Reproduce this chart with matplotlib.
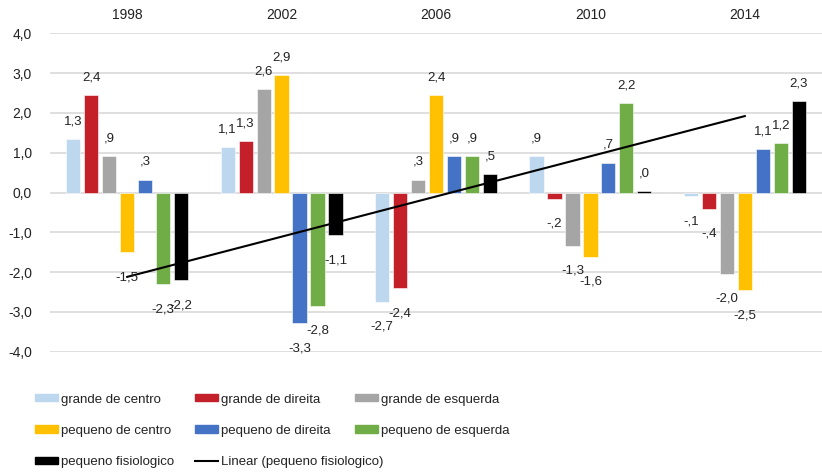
import matplotlib.pyplot as plt
import matplotlib.patches as mpatches
import matplotlib.lines as mlines
import numpy as np


###Data
years = ['1998', '2002', '2006', '2010', '2014']
series_names = ['grande de centro', 'grande de direita', 'grande de esquerda',
                'pequeno de centro', 'pequeno de direita', 'pequeno de esquerda',
                'pequeno fisiologico']
grande_centro = [1.34, 1.14, -2.74, 0.91, -0.10]
grande_direita = [2.44, 1.29, -2.41, -0.16, -0.41]
grande_esquerda = [0.91, 2.59, 0.32, -1.34, -2.04]
pequeno_centro = [-1.50, 2.94, 2.44, -1.61, -2.46]
pequeno_direita = [0.32, -3.28, 0.91, 0.74, 1.09]
pequeno_esquerda = [-2.31, -2.84, 0.91, 2.24, 1.24]
pequeno_fisiologico = [-2.21, -1.07, 0.46, 0.03, 2.29]
###Data end

###Adjustments
colors = ['#BDD7EE', '#C3202A', '#A5A5A5', '#FFC000', '#4472C4', '#70AD47', '#000000']
bar_pitch = 0.1165
bar_width = 0.092
font = 'Liberation Sans'
text_color = '#222222'
###Adjustments end

values = [grande_centro, grande_direita, grande_esquerda, pequeno_centro,
          pequeno_direita, pequeno_esquerda, pequeno_fisiologico]


def fmt(v):
    s = '%.1f' % v
    if s.startswith('0.'):
        s = s[1:]
    elif s.startswith('-0.'):
        s = '-' + s[2:]
    if s == '-.0':
        s = '.0'
    return s.replace('.', ',')


fig = plt.figure(figsize=(8.22, 4.72), dpi=100)
ax = fig.add_axes([50 / 822, 1 - 351.7 / 472, 1 - 50 / 822, (351.7 - 33.3) / 472])

x = np.arange(len(years))
handles = []
for i, (name, vals) in enumerate(zip(series_names, values)):
    pos = x + (i - 3) * bar_pitch
    ax.bar(pos, vals, width=bar_width, color=colors[i], label=name,
           edgecolor='white', linewidth=0.4, zorder=2)
    handles.append(mpatches.Patch(color=colors[i], label=name))
    for p, v in zip(pos, vals):
        off = 13 if v >= 0 else -18
        ax.annotate(fmt(v), (p, v), xytext=(0, off), textcoords='offset points',
                    ha='center', va='center', fontsize=9.5, family=font,
                    color=text_color, zorder=4)

# linear trendline of pequeno fisiologico
coef = np.polyfit(x, pequeno_fisiologico, 1)
ax.plot(x, np.polyval(coef, x), color='black', linewidth=1.5, zorder=3)
trend = mlines.Line2D([], [], color='black', linewidth=1.5,
                      label='Linear (pequeno fisiologico)')

ax.set_xlim(-0.5, len(years) - 0.5)
ax.set_ylim(-4, 4)
yt = np.arange(-4, 5, 1)
ax.set_yticks(yt)
ax.set_yticklabels([('%.1f' % t).replace('.', ',') for t in yt],
                   fontsize=10, family=font, color=text_color)
ax.set_xticks(x)
ax.set_xticklabels(years, fontsize=10, family=font, color=text_color)
ax.xaxis.tick_top()
ax.tick_params(axis='x', length=0, pad=8)
ax.tick_params(axis='y', length=0, pad=13)
ax.grid(True, axis='y', color='#D9D9D9', linewidth=1.2, zorder=0)
ax.set_axisbelow(True)
for s in ax.spines.values():
    s.set_visible(False)

# legend, three evenly spaced columns like the original
columns = [[handles[0], handles[3], handles[6]],
           [handles[1], handles[4], trend],
           [handles[2], handles[5]]]
col_x = [28 / 822, 188 / 822, 348 / 822]
for cx, col in zip(col_x, columns):
    leg = fig.legend(handles=col, loc='upper left', bbox_to_anchor=(cx, 1 - 387 / 472),
                     frameon=False, handlelength=1.8, handleheight=0.45,
                     handletextpad=0.2, labelspacing=1.45, borderpad=0,
                     prop={'family': font, 'size': 9.5})
    for t in leg.get_texts():
        t.set_color(text_color)

fig.savefig('out.png', dpi=100)
